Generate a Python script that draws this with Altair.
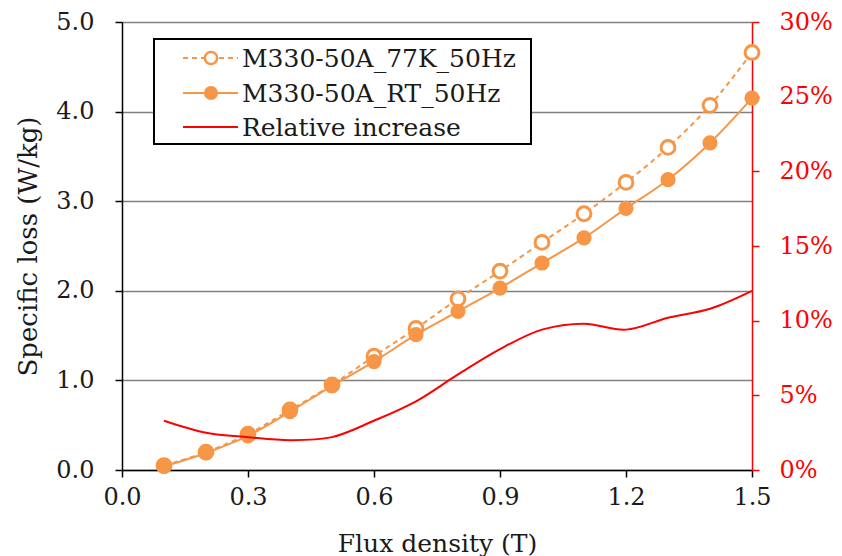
import altair as alt
import pandas as pd

flux = [0.1, 0.2, 0.3, 0.4, 0.5, 0.6, 0.7, 0.8, 0.9, 1.0, 1.1, 1.2, 1.3, 1.4, 1.5]
loss_77k = [0.05, 0.20, 0.40, 0.67, 0.95, 1.27, 1.58, 1.91, 2.22, 2.54, 2.86, 3.21, 3.60, 4.07, 4.66]
loss_rt = [0.04, 0.19, 0.38, 0.65, 0.94, 1.21, 1.51, 1.77, 2.03, 2.31, 2.59, 2.92, 3.24, 3.65, 4.15]
rel_inc = [0.033, 0.025, 0.022, 0.020, 0.022, 0.033, 0.046, 0.064, 0.081, 0.094, 0.098, 0.094, 0.102, 0.108, 0.120]
names = ["M330-50A_77K_50Hz", "M330-50A_RT_50Hz", "Relative increase"]

x_ticks = [0.0, 0.3, 0.6, 0.9, 1.2, 1.5]
y_ticks = [0.0, 1.0, 2.0, 3.0, 4.0, 5.0]
y2_ticks = [0.0, 0.05, 0.10, 0.15, 0.20, 0.25, 0.30]

ORANGE = "#F79646"
RED = "#FF0000"
FONT = "DejaVu Serif"
TXT = "#1a1a1a"

df77 = pd.DataFrame({"x": flux, "y": loss_77k})
dfrt = pd.DataFrame({"x": flux, "y": loss_rt})
dfrel = pd.DataFrame({"x": flux, "r": rel_inc})

xs = alt.Scale(domain=[0, 1.5], nice=False, zero=False)
ys = alt.Scale(domain=[0, 5], nice=False)
y2s = alt.Scale(domain=[0, 0.30], nice=False)

x_enc = alt.X("x:Q", scale=xs, axis=alt.Axis(
    values=x_ticks, format=".1f", title="Flux density (T)", grid=False, labelFlush=False,
    domainColor="black", domainWidth=1.5, tickColor="black", tickWidth=1.5, tickSize=7,
    labelPadding=8, titlePadding=22, labelFontSize=24, titleFontSize=25,
    labelFont=FONT, titleFont=FONT, labelColor=TXT, titleColor=TXT,
    titleFontWeight="normal"))
y_enc = alt.Y("y:Q", scale=ys, axis=alt.Axis(
    values=y_ticks, format=".1f", title="Specific loss (W/kg)", grid=True,
    gridColor="#808080", gridWidth=1.5, domainColor="black", domainWidth=1.5,
    tickColor="black", tickWidth=1.5, tickSize=7, labelPadding=21, titlePadding=14,
    labelFontSize=24, titleFontSize=26, labelFont=FONT, titleFont=FONT,
    labelColor=TXT, titleColor=TXT, titleFontWeight="normal"))

line77 = alt.Chart(df77).mark_line(color=ORANGE, strokeWidth=2, strokeDash=[5, 4],
                                   interpolate="monotone").encode(x=x_enc, y=y_enc)
pts77 = alt.Chart(df77).mark_point(shape="circle", size=190, filled=False, color=ORANGE,
                                   strokeWidth=3, fill="white", fillOpacity=1,
                                   opacity=1).encode(x=x_enc, y=y_enc)
linert = alt.Chart(dfrt).mark_line(color=ORANGE, strokeWidth=2,
                                   interpolate="monotone").encode(x=x_enc, y=y_enc)
ptsrt = alt.Chart(dfrt).mark_point(shape="circle", size=230, filled=True, color=ORANGE,
                                   opacity=1).encode(x=x_enc, y=y_enc)

left = alt.layer(line77, pts77, linert, ptsrt)

right = alt.Chart(dfrel).mark_line(color=RED, strokeWidth=2, interpolate="catmull-rom").encode(
    x=alt.X("x:Q", scale=xs),
    y=alt.Y("r:Q", scale=y2s, axis=alt.Axis(
        orient="right", values=y2_ticks, format=".0%", title=None, grid=False,
        domainColor=RED, domainWidth=1.5, tickColor=RED, tickWidth=1.5, tickSize=7,
        labelPadding=20, labelFontSize=24, labelFont=FONT, labelColor=RED)))

# manual legend
one = pd.DataFrame({"label": names})
box = alt.Chart(one.iloc[[0]]).mark_rect(fill="white", stroke="black", strokeWidth=2).encode(
    x=alt.value(32), x2=alt.value(409), y=alt.value(17), y2=alt.value(122))
rows = [36, 71, 105]
legend_layers = [box]
styles = [
    dict(dash=[5, 4], color=ORANGE, point="open"),
    dict(dash=None, color=ORANGE, point="filled"),
    dict(dash=None, color=RED, point=None),
]
for i, (yy, st) in enumerate(zip(rows, styles)):
    d = one.iloc[[i]]
    rule_kwargs = dict(color=st["color"], strokeWidth=2)
    if st["dash"]:
        rule_kwargs["strokeDash"] = st["dash"]
    legend_layers.append(alt.Chart(d).mark_rule(**rule_kwargs).encode(
        x=alt.value(61), x2=alt.value(116), y=alt.value(yy)))
    if st["point"] == "open":
        legend_layers.append(alt.Chart(d).mark_point(shape="circle", size=150, filled=False,
                                                     color=ORANGE, strokeWidth=2.5, fill="white",
                                                     fillOpacity=1, opacity=1).encode(
            x=alt.value(89), y=alt.value(yy)))
    elif st["point"] == "filled":
        legend_layers.append(alt.Chart(d).mark_point(shape="circle", size=200, filled=True,
                                                     color=ORANGE, opacity=1).encode(
            x=alt.value(89), y=alt.value(yy)))
    legend_layers.append(alt.Chart(d).mark_text(align="left", baseline="middle", font=FONT,
                                                fontSize=25, color=TXT).encode(
        x=alt.value(120), y=alt.value(yy + 1), text="label:N"))

legend = alt.layer(*legend_layers)

chart = alt.layer(left, right, legend).resolve_scale(y="independent").properties(
    width=630, height=448,
    autosize=alt.AutoSizeParams(type="none"),
    padding={"left": 122, "top": 22, "right": 90, "bottom": 86},
    background="white",
).configure_view(strokeWidth=0)

chart.save("out.html", embed_options={"renderer": "svg", "actions": False})
